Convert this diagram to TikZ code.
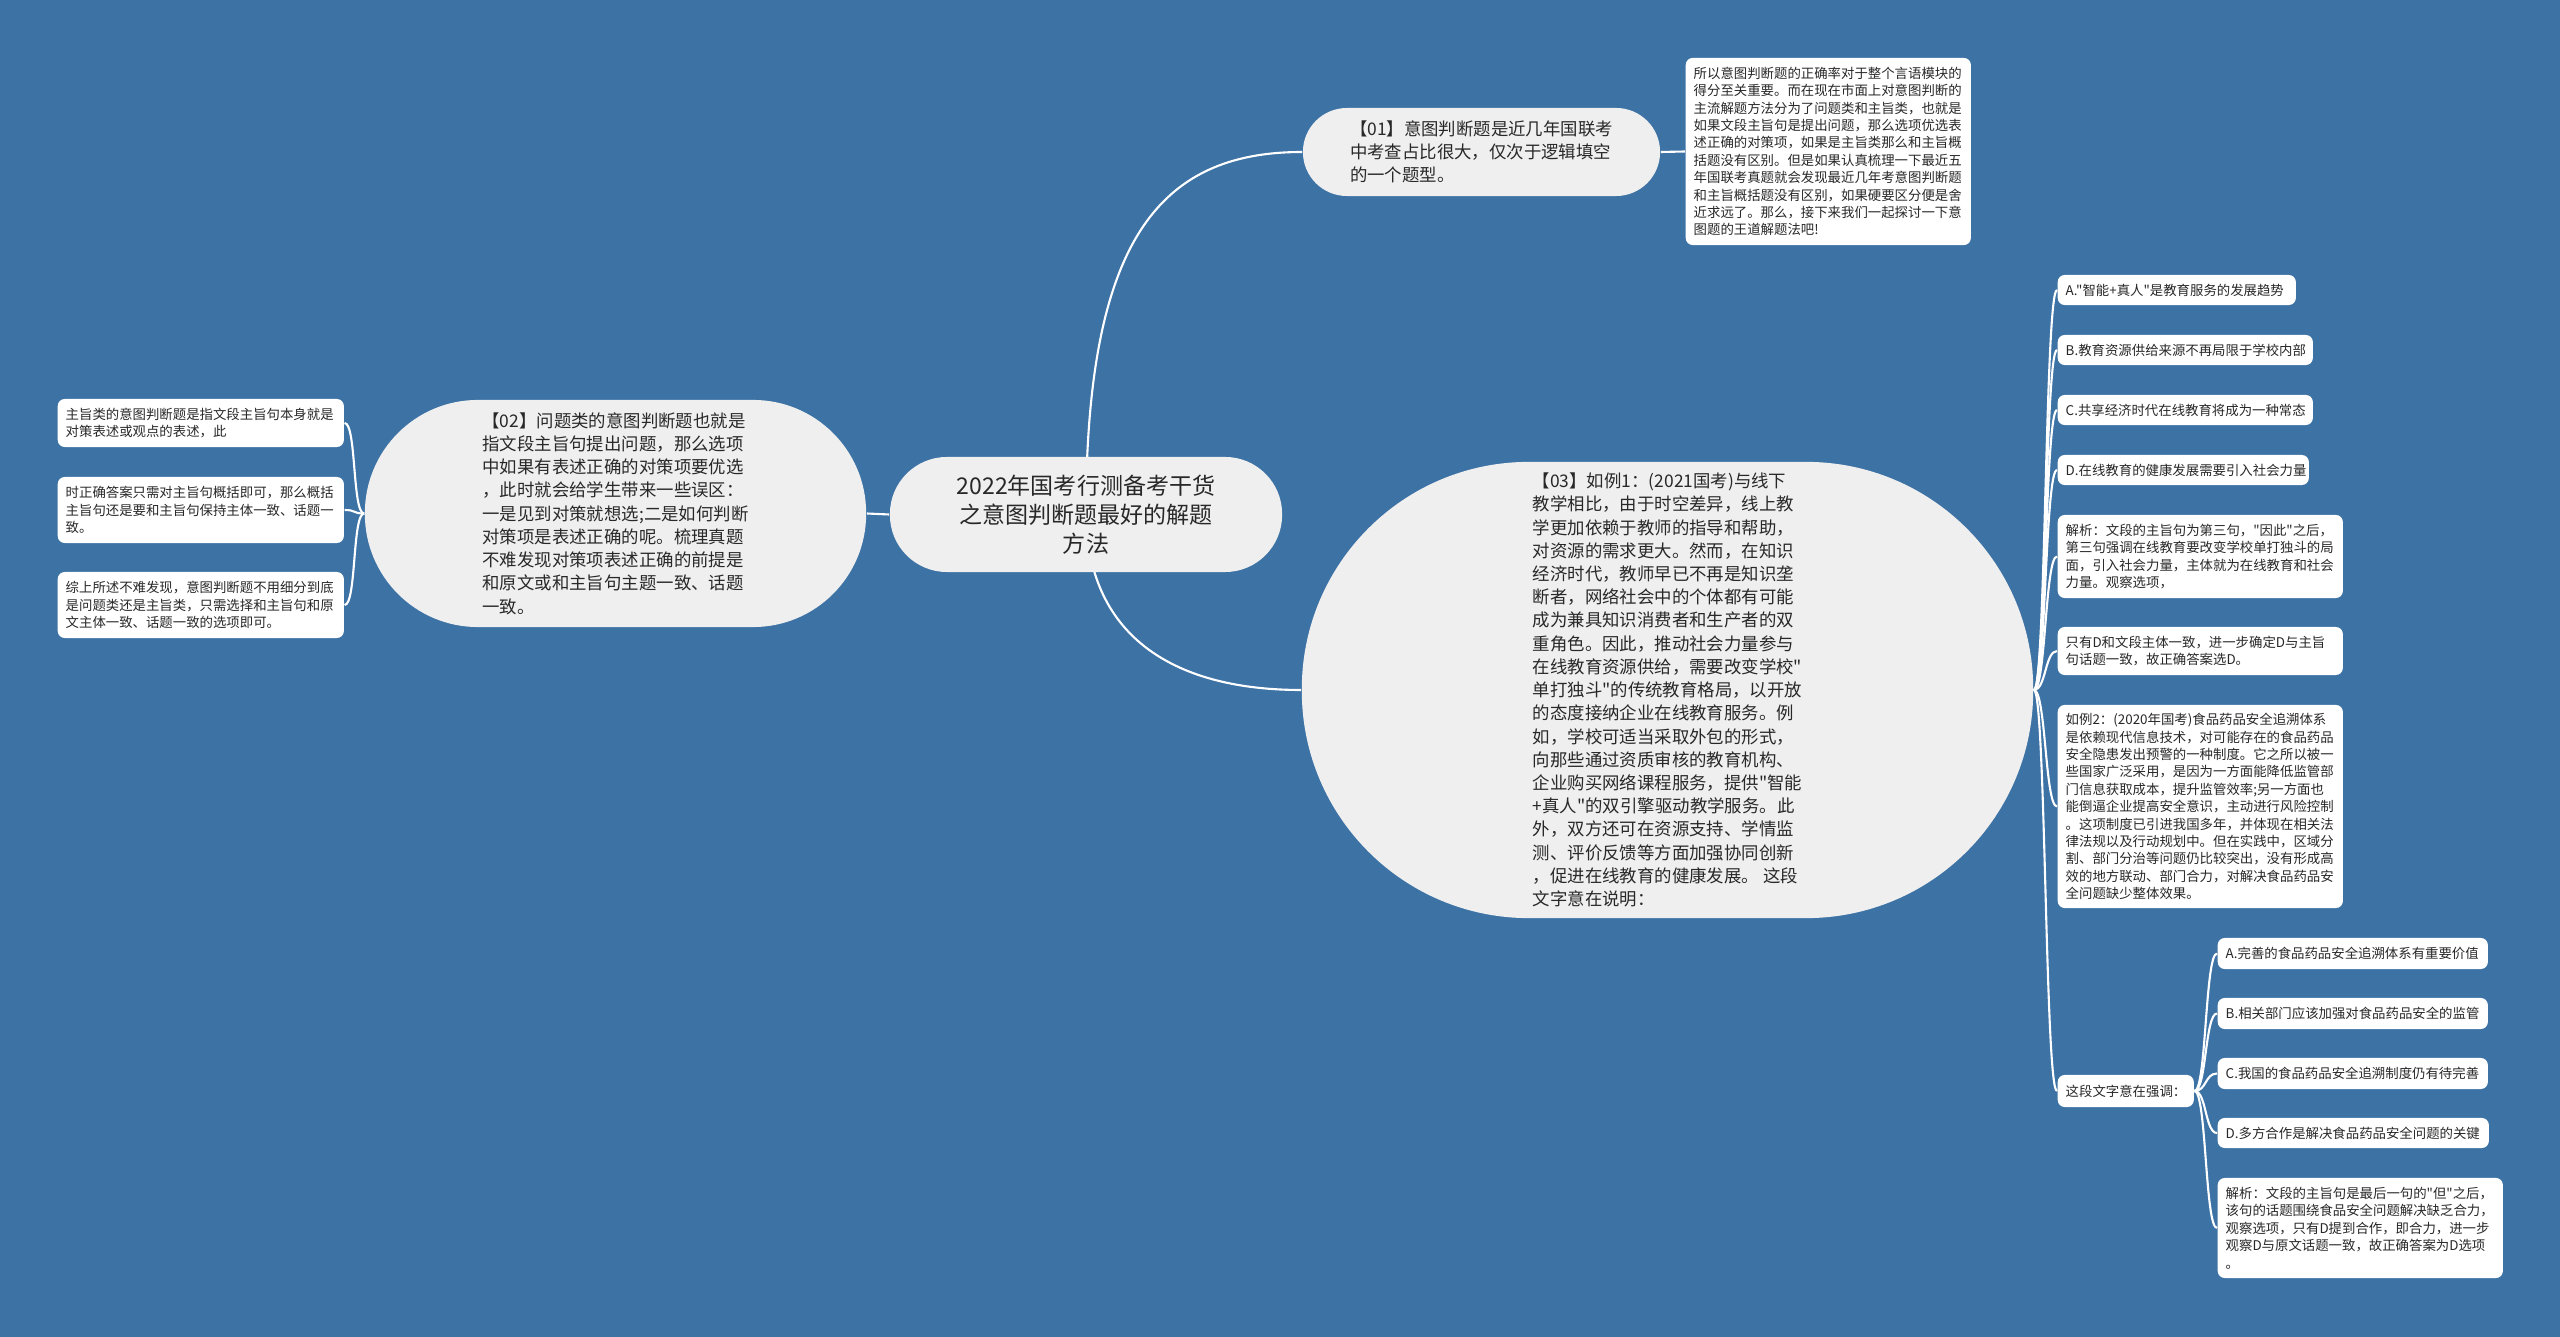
\documentclass[tikz,border=0pt]{standalone}
\usepackage{fontspec}
\newfontfamily\cjk{Noto Sans CJK SC}
\usepackage{tikz}
\pgfdeclarelayer{back}
\pgfdeclarelayer{wires}
\pgfsetlayers{back,wires,main}
\definecolor{sea}{RGB}{61,114,165}
\definecolor{pale}{RGB}{239,239,239}
\definecolor{ink}{RGB}{40,40,40}

\begin{document}
\begin{tikzpicture}[x=0.01cm,y=-0.01cm,
   link/.style={draw=white,line width=0.6pt},
   topic/.style={fill=pale,text=ink,inner sep=0pt,align=left,font=\cjk\fontsize{4.95}{6.6}\selectfont},
   leaf/.style={fill=white,text=ink,rounded corners=0.07cm,inner xsep=0.08cm,inner ysep=0.04cm,align=left,anchor=west,font=\cjk\fontsize{3.81}{4.95}\selectfont}]
   \useasboundingbox (0,0) rectangle (2560,1337);
   \begin{pgfonlayer}{back}
   \fill [sea] (0,0) rectangle (2560,1337);
   \end{pgfonlayer}

   \node [topic,align=center,font=\cjk\fontsize{6.55}{8.25}\selectfont,minimum width=3.92cm,minimum height=1.15cm,rounded corners=0.57cm] (root) at (1086,514.5) {2022年国考行测备考干货\\之意图判断题最好的解题\\方法};
   \node [topic,minimum width=3.57cm,minimum height=0.88cm,rounded corners=0.44cm] (n01) at (1481.5,152) {【01】意图判断题是近几年国联考\\中考查占比很大，仅次于逻辑填空\\的一个题型。};
   \node [topic,minimum width=5.01cm,minimum height=2.27cm,rounded corners=1.13cm] (n02) at (615.5,513.5) {【02】问题类的意图判断题也就是\\指文段主旨句提出问题，那么选项\\中如果有表述正确的对策项要优选\\，此时就会给学生带来一些误区：\\一是见到对策就想选;二是如何判断\\对策项是表述正确的呢。梳理真题\\不难发现对策项表述正确的前提是\\和原文或和主旨句主题一致、话题\\一致。};
   \node [topic,minimum width=7.31cm,minimum height=4.56cm,rounded corners=2.27cm] (n03) at (1667.5,690) {【03】如例1：(2021国考)与线下\\教学相比，由于时空差异，线上教\\学更加依赖于教师的指导和帮助，\\对资源的需求更大。然而，在知识\\经济时代，教师早已不再是知识垄\\断者，网络社会中的个体都有可能\\成为兼具知识消费者和生产者的双\\重角色。因此，推动社会力量参与\\在线教育资源供给，需要改变学校"\\单打独斗"的传统教育格局，以开放\\的态度接纳企业在线教育服务。例\\如，学校可适当采取外包的形式，\\向那些通过资质审核的教育机构、\\企业购买网络课程服务，提供"智能\\+真人"的双引擎驱动教学服务。此\\外，双方还可在资源支持、学情监\\测、评价反馈等方面加强协同创新\\，促进在线教育的健康发展。 这段\\文字意在说明：};

   \node [leaf,text width=2.69cm,minimum height=1.87cm] (note01) at (1685,151.5) {所以意图判断题的正确率对于整个言语模块的\\得分至关重要。而在现在市面上对意图判断的\\主流解题方法分为了问题类和主旨类，也就是\\如果文段主旨句是提出问题，那么选项优选表\\述正确的对策项，如果是主旨类那么和主旨概\\括题没有区别。但是如果认真梳理一下最近五\\年国联考真题就会发现最近几年考意图判断题\\和主旨概括题没有区别，如果硬要区分便是舍\\近求远了。那么，接下来我们一起探讨一下意\\图题的王道解题法吧!};

   \node [leaf,text width=2.70cm,minimum height=0.48cm] (l1) at (57,423) {主旨类的意图判断题是指文段主旨句本身就是\\对策表述或观点的表述，此};
   \node [leaf,text width=2.70cm,minimum height=0.66cm] (l2) at (57,510) {时正确答案只需对主旨句概括即可，那么概括\\主旨句还是要和主旨句保持主体一致、话题一\\致。};
   \node [leaf,text width=2.70cm,minimum height=0.66cm] (l3) at (57,605) {综上所述不难发现，意图判断题不用细分到底\\是问题类还是主旨类，只需选择和主旨句和原\\文主体一致、话题一致的选项即可。};

   \node [leaf,text width=2.22cm,minimum height=0.30cm] (optA) at (2057,290) {A."智能+真人"是教育服务的发展趋势};
   \node [leaf,text width=2.39cm,minimum height=0.30cm] (optB) at (2057,350) {B.教育资源供给来源不再局限于学校内部};
   \node [leaf,text width=2.39cm,minimum height=0.30cm] (optC) at (2057,410) {C.共享经济时代在线教育将成为一种常态};
   \node [leaf,text width=2.35cm,minimum height=0.30cm] (optD) at (2057,470) {D.在线教育的健康发展需要引入社会力量};
   \node [leaf,text width=2.69cm,minimum height=0.83cm] (ana1) at (2057,556.5) {解析：文段的主旨句为第三句，"因此"之后，\\第三句强调在线教育要改变学校单打独斗的局\\面，引入社会力量，主体就为在线教育和社会\\力量。观察选项，};
   \node [leaf,text width=2.69cm,minimum height=0.48cm] (onlyD) at (2057,651) {只有D和文段主体一致，进一步确定D与主旨\\句话题一致，故正确答案选D。};
   \node [leaf,text width=2.69cm,minimum height=2.03cm] (ex2) at (2057,806.5) {如例2：(2020年国考)食品药品安全追溯体系\\是依赖现代信息技术，对可能存在的食品药品\\安全隐患发出预警的一种制度。它之所以被一\\些国家广泛采用，是因为一方面能降低监管部\\门信息获取成本，提升监管效率;另一方面也\\能倒逼企业提高安全意识，主动进行风险控制\\。这项制度已引进我国多年，并体现在相关法\\律法规以及行动规划中。但在实践中，区域分\\割、部门分治等问题仍比较突出，没有形成高\\效的地方联动、部门合力，对解决食品药品安\\全问题缺少整体效果。};
   \node [leaf,text width=1.20cm,minimum height=0.32cm] (emph) at (2057,1091) {这段文字意在强调：};

   \node [leaf,text width=2.54cm,minimum height=0.31cm] (foodA) at (2217,953.5) {A.完善的食品药品安全追溯体系有重要价值};
   \node [leaf,text width=2.54cm,minimum height=0.31cm] (foodB) at (2217,1013.5) {B.相关部门应该加强对食品药品安全的监管};
   \node [leaf,text width=2.54cm,minimum height=0.31cm] (foodC) at (2217,1073.5) {C.我国的食品药品安全追溯制度仍有待完善};
   \node [leaf,text width=2.55cm,minimum height=0.30cm] (foodD) at (2217,1133) {D.多方合作是解决食品药品安全问题的关键};
   \node [leaf,text width=2.69cm,minimum height=1.00cm] (ana2) at (2217,1228) {解析：文段的主旨句是最后一句的"但"之后，\\该句的话题围绕食品安全问题解决缺乏合力，\\观察选项，只有D提到合作，即合力，进一步\\观察D与原文话题一致，故正确答案为D选项\\。};

   \begin{pgfonlayer}{wires}
   \draw [link] (root.west) -- (n02.east) ;
   \draw [link] (root.center) .. controls +(0,-274) and +(-143,0) .. (n01.west) ;
   \draw [link] (root.center) .. controls +(2,126) and +(-122,0) .. (n03.west) ;
   \draw [link] (n01.east) -- (note01.west) ;
   \draw [link] (n02.west) .. controls +(-12,0) and +(12,0) .. (l1.east) ;
   \draw [link] (n02.west) .. controls +(-12,0) and +(12,0) .. (l2.east) ;
   \draw [link] (n02.west) .. controls +(-12,0) and +(12,0) .. (l3.east) ;
   \draw [link] (n03.east) .. controls +(12,0) and +(-12,0) .. (optA.west) ;
   \draw [link] (n03.east) .. controls +(12,0) and +(-12,0) .. (optB.west) ;
   \draw [link] (n03.east) .. controls +(12,0) and +(-12,0) .. (optC.west) ;
   \draw [link] (n03.east) .. controls +(12,0) and +(-12,0) .. (optD.west) ;
   \draw [link] (n03.east) .. controls +(12,0) and +(-12,0) .. (ana1.west) ;
   \draw [link] (n03.east) .. controls +(12,0) and +(-12,0) .. (onlyD.west) ;
   \draw [link] (n03.east) .. controls +(12,0) and +(-12,0) .. (ex2.west) ;
   \draw [link] (n03.east) .. controls +(12,0) and +(-12,0) .. (emph.west) ;
   \draw [link] (emph.east) .. controls +(12,0) and +(-12,0) .. (foodA.west) ;
   \draw [link] (emph.east) .. controls +(12,0) and +(-12,0) .. (foodB.west) ;
   \draw [link] (emph.east) .. controls +(12,0) and +(-12,0) .. (foodC.west) ;
   \draw [link] (emph.east) .. controls +(12,0) and +(-12,0) .. (foodD.west) ;
   \draw [link] (emph.east) .. controls +(12,0) and +(-12,0) .. (ana2.west) ;
   \end{pgfonlayer}
\end{tikzpicture}
\end{document}
